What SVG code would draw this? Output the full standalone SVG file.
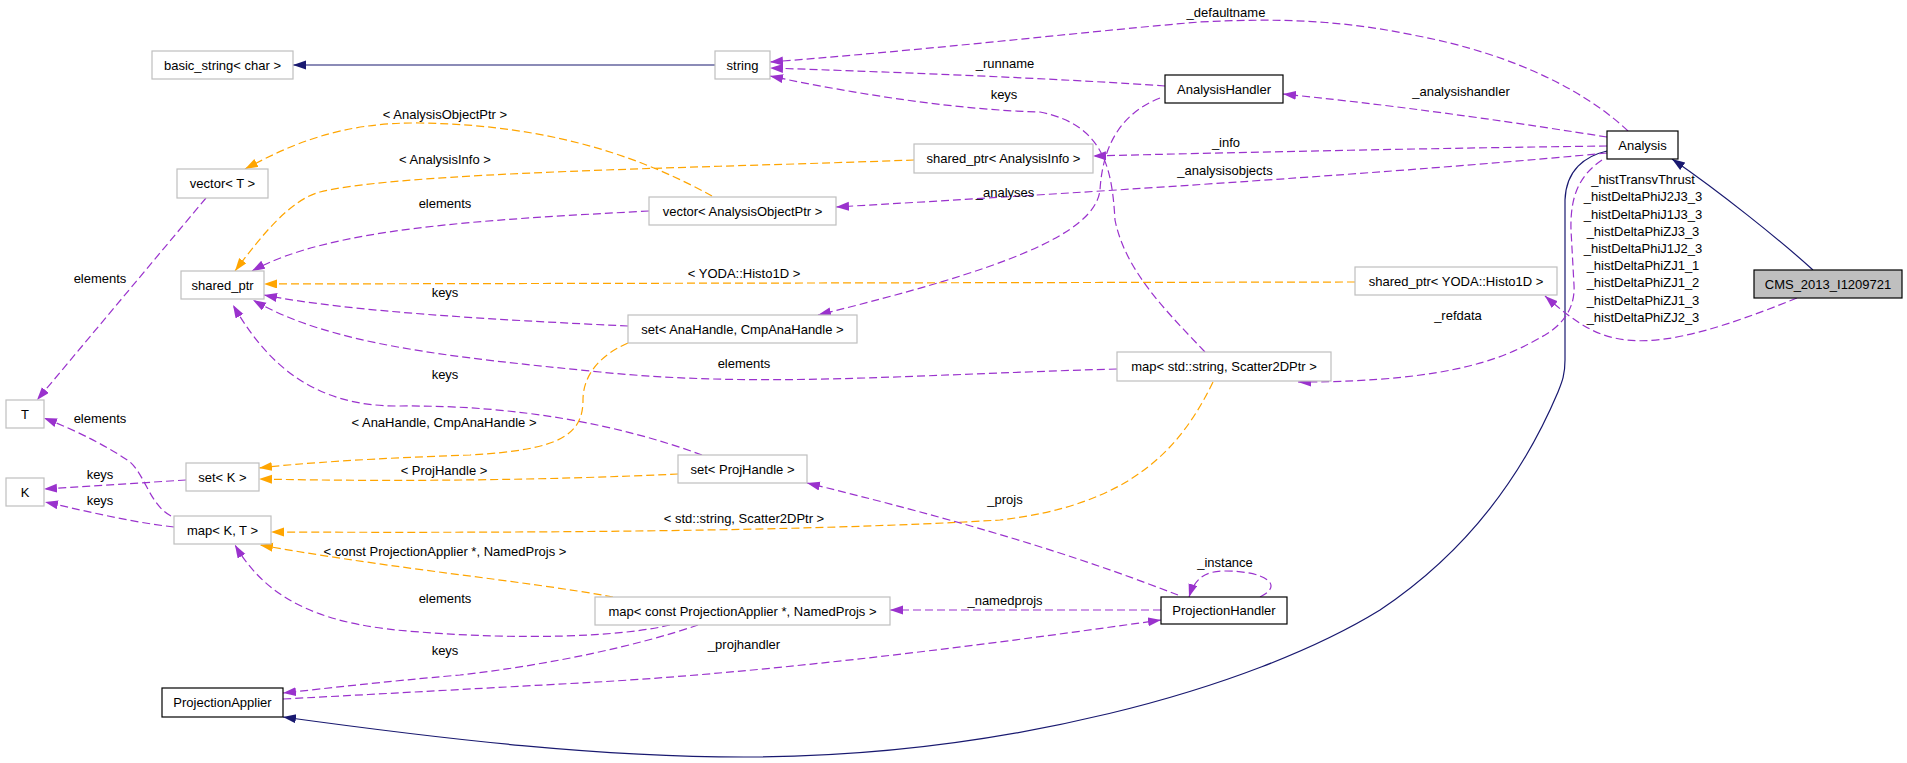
<svg xmlns="http://www.w3.org/2000/svg" width="1907" height="763" viewBox="0 0 1907 763">
<style>
text{font-family:"Liberation Sans",Arial,Helvetica,sans-serif;font-size:13px;fill:#000;text-anchor:middle}
.n rect{fill:#fff;stroke:#bfbfbf;stroke-width:1.2}
.d rect{fill:#fff;stroke:#000;stroke-width:1.2}
.c rect{fill:#bfbfbf;stroke:#000;stroke-width:1.2}
.e{fill:none;stroke-width:1.2}
.inh{stroke:#191970;marker-end:url(#ab)}
.use{stroke:#9a32cd;stroke-dasharray:8,4;marker-end:url(#ap)}
.tpl{stroke:#ffa500;stroke-dasharray:8,4;marker-end:url(#ao)}
</style>
<defs>
<marker id="ab" markerUnits="userSpaceOnUse" markerWidth="14" markerHeight="10" refX="13" refY="4.5" orient="auto"><path d="M0,0 L13,4.5 L0,9 z" fill="#191970"/></marker>
<marker id="ap" markerUnits="userSpaceOnUse" markerWidth="14" markerHeight="10" refX="13" refY="4.5" orient="auto"><path d="M0,0 L13,4.5 L0,9 z" fill="#9a32cd"/></marker>
<marker id="ao" markerUnits="userSpaceOnUse" markerWidth="14" markerHeight="10" refX="13" refY="4.5" orient="auto"><path d="M0,0 L13,4.5 L0,9 z" fill="#ffa500"/></marker>
</defs>
<rect width="1907" height="763" fill="#fff"/>
<g id="connectors">
<path class="e inh" d="M715,65 L293,65"/>
<path class="e inh" d="M1813,270 C1780,240 1720,192 1672,159"/>
<path class="e inh" d="M1607,151 C1585,156 1566,170 1565,200 L1565,360 C1565,375 1562,382 1558,392 C1525,470 1470,550 1380,610 C1250,690 1000,757 744,757 C600,757 450,740 283,717"/>
<path class="e use" d="M1628,131 C1590,95 1520,55 1413,35 C1340,20 1280,18 1200,22 C1100,30 950,48 770,62"/>
<path class="e use" d="M1165,86 C1080,80 950,74 770,68"/>
<path class="e use" d="M1205,352 C1165,310 1125,270 1115,220 C1112,170 1105,125 1040,112 C960,110 860,95 770,76"/>
<path class="e use" d="M1607,137 C1530,125 1420,108 1283,94"/>
<path class="e use" d="M1607,146 C1450,148 1250,152 1093,156"/>
<path class="e use" d="M1607,153 C1450,168 1200,186 836,207"/>
<path class="e use" d="M1160,98 C1125,112 1103,140 1100,190 C1095,235 1000,270 818,315"/>
<path class="e tpl" d="M914,160 C700,168 400,172 320,192 C290,200 262,235 235,271"/>
<path class="e tpl" d="M712,196 C650,162 560,125 420,123 C340,122 290,145 245,169"/>
<path class="e use" d="M649,211 C480,220 330,228 252,271"/>
<path class="e tpl" d="M1355,282 L264,284"/>
<path class="e use" d="M1797,298 C1730,325 1670,345 1627,340 C1598,337 1578,325 1545,296"/>
<path class="e use" d="M1602,160 C1580,175 1570,195 1571,230 L1574,285 C1575,300 1570,320 1545,335 C1510,355 1460,382 1298,382"/>
<path class="e use" d="M628,326 C500,320 350,312 264,295"/>
<path class="e use" d="M1117,369 C900,375 760,388 600,372 C450,357 330,345 253,300"/>
<path class="e use" d="M702,455 C620,425 520,405 400,406 C310,407 265,360 233,305"/>
<path class="e tpl" d="M628,343 C600,355 583,375 583,400 C583,435 560,450 470,455 C380,458 300,463 259,468"/>
<path class="e tpl" d="M678,474 C550,480 400,482 259,479"/>
<path class="e use" d="M186,480 L44,489"/>
<path class="e use" d="M174,527 C130,522 90,512 45,502"/>
<path class="e use" d="M171,516 C150,505 145,475 130,462 C110,448 80,432 44,418"/>
<path class="e use" d="M206,198 L37,400"/>
<path class="e tpl" d="M1213,382 C1180,450 1130,505 1000,520 C800,532 500,533 271,532"/>
<path class="e tpl" d="M613,597 C520,580 400,570 260,545"/>
<path class="e use" d="M670,625 C620,637 520,640 420,632 C330,626 270,605 235,545"/>
<path class="e use" d="M698,625 C640,645 550,665 460,675 C380,682 330,688 283,693"/>
<path class="e use" d="M283,699 C380,694 450,690 580,683 C750,674 950,650 1161,620"/>
<path class="e use" d="M1161,610 L890,610"/>
<path class="e use" d="M1178,595 C1100,565 1000,530 807,483"/>
<path class="e use" d="M1260,597 C1285,585 1265,571 1225,571 C1205,571 1195,578 1189,597"/>
</g>
<g id="edge-labels">
<text x="1226" y="17">_defaultname</text>
<text x="1005" y="68">_runname</text>
<text x="1004" y="99">keys</text>
<text x="1461" y="96">_analysishandler</text>
<text x="1226" y="147">_info</text>
<text x="1225" y="175">_analysisobjects</text>
<text x="1005" y="197">_analyses</text>
<text x="445" y="119">&lt; AnalysisObjectPtr &gt;</text>
<text x="445" y="164">&lt; AnalysisInfo &gt;</text>
<text x="445" y="208">elements</text>
<text x="1643" y="184">_histTransvThrust</text>
<text x="1643" y="201">_histDeltaPhiJ2J3_3</text>
<text x="1643" y="219">_histDeltaPhiJ1J3_3</text>
<text x="1643" y="236">_histDeltaPhiZJ3_3</text>
<text x="1643" y="253">_histDeltaPhiJ1J2_3</text>
<text x="1643" y="270">_histDeltaPhiZJ1_1</text>
<text x="1643" y="287">_histDeltaPhiZJ1_2</text>
<text x="1643" y="305">_histDeltaPhiZJ1_3</text>
<text x="1643" y="322">_histDeltaPhiZJ2_3</text>
<text x="744" y="278">&lt; YODA::Histo1D &gt;</text>
<text x="445" y="297">keys</text>
<text x="744" y="368">elements</text>
<text x="445" y="379">keys</text>
<text x="444" y="427">&lt; AnaHandle, CmpAnaHandle &gt;</text>
<text x="444" y="475">&lt; ProjHandle &gt;</text>
<text x="100" y="283">elements</text>
<text x="100" y="423">elements</text>
<text x="100" y="479">keys</text>
<text x="100" y="505">keys</text>
<text x="1458" y="320">_refdata</text>
<text x="1005" y="504">_projs</text>
<text x="744" y="523">&lt; std::string, Scatter2DPtr &gt;</text>
<text x="445" y="556">&lt; const ProjectionApplier *, NamedProjs &gt;</text>
<text x="445" y="603">elements</text>
<text x="445" y="655">keys</text>
<text x="744" y="649">_projhandler</text>
<text x="1225" y="567">_instance</text>
<text x="1005" y="605">_namedprojs</text>
</g>
<g id="node-basic_string" class="n"><rect x="152" y="51" width="141" height="28"/><text x="222.5" y="69.5">basic_string&lt; char &gt;</text></g>
<g id="node-string" class="n"><rect x="715" y="51" width="55" height="28"/><text x="742.5" y="69.5">string</text></g>
<g id="node-vector_T" class="n"><rect x="177" y="169" width="91" height="29"/><text x="222.5" y="188">vector&lt; T &gt;</text></g>
<g id="node-shared_ptr_AnalysisInfo" class="n"><rect x="914" y="144" width="179" height="29"/><text x="1003.5" y="163">shared_ptr&lt; AnalysisInfo &gt;</text></g>
<g id="node-vector_AnalysisObjectPtr" class="n"><rect x="649" y="197" width="187" height="28"/><text x="742.5" y="215.5">vector&lt; AnalysisObjectPtr &gt;</text></g>
<g id="node-AnalysisHandler" class="d"><rect x="1165" y="75" width="118" height="28"/><text x="1224" y="93.5">AnalysisHandler</text></g>
<g id="node-Analysis" class="d"><rect x="1607" y="131" width="71" height="28"/><text x="1642.5" y="149.5">Analysis</text></g>
<g id="node-CMS_2013_I1209721" class="c"><rect x="1754" y="270" width="148" height="28"/><text x="1828" y="288.5">CMS_2013_I1209721</text></g>
<g id="node-shared_ptr_Histo1D" class="n"><rect x="1355" y="267" width="202" height="28"/><text x="1456" y="285.5">shared_ptr&lt; YODA::Histo1D &gt;</text></g>
<g id="node-shared_ptr" class="n"><rect x="181" y="271" width="83" height="28"/><text x="222.5" y="289.5">shared_ptr</text></g>
<g id="node-set_AnaHandle" class="n"><rect x="628" y="315" width="229" height="28"/><text x="742.5" y="333.5">set&lt; AnaHandle, CmpAnaHandle &gt;</text></g>
<g id="node-map_string_Scatter2DPtr" class="n"><rect x="1117" y="352" width="214" height="29"/><text x="1224" y="371">map&lt; std::string, Scatter2DPtr &gt;</text></g>
<g id="node-T" class="n"><rect x="6" y="400" width="38" height="28"/><text x="25" y="418.5">T</text></g>
<g id="node-K" class="n"><rect x="6" y="478" width="38" height="28"/><text x="25" y="496.5">K</text></g>
<g id="node-set_K" class="n"><rect x="186" y="463" width="73" height="28"/><text x="222.5" y="481.5">set&lt; K &gt;</text></g>
<g id="node-set_ProjHandle" class="n"><rect x="678" y="455" width="129" height="28"/><text x="742.5" y="473.5">set&lt; ProjHandle &gt;</text></g>
<g id="node-map_K_T" class="n"><rect x="174" y="516" width="97" height="28"/><text x="222.5" y="534.5">map&lt; K, T &gt;</text></g>
<g id="node-map_ProjectionApplier_NamedProjs" class="n"><rect x="595" y="597" width="295" height="28"/><text x="742.5" y="615.5">map&lt; const ProjectionApplier *, NamedProjs &gt;</text></g>
<g id="node-ProjectionHandler" class="d"><rect x="1161" y="597" width="126" height="27"/><text x="1224" y="615">ProjectionHandler</text></g>
<g id="node-ProjectionApplier" class="d"><rect x="162" y="688" width="121" height="29"/><text x="222.5" y="707">ProjectionApplier</text></g>
</svg>
